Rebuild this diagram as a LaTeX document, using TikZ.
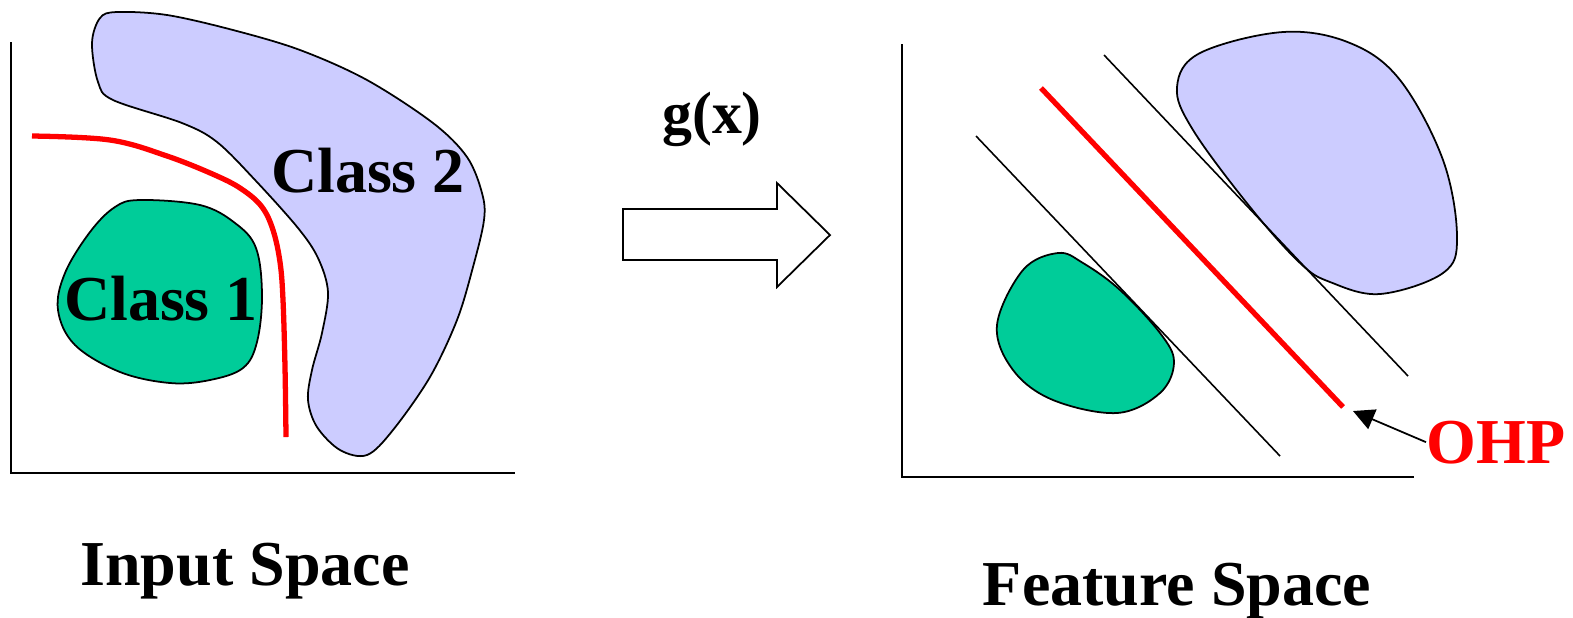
\documentclass[tikz,border=0pt]{standalone}
\usepackage{fontspec}
\setmainfont{Liberation Serif}
\usetikzlibrary{arrows.meta}
\definecolor{classone}{RGB}{0,204,153}
\definecolor{classtwo}{RGB}{204,204,255}
\begin{document}
\begin{tikzpicture}[x=0.01cm,y=-0.01cm,
  axisline/.style={line width=0.5pt},
  blob/.style={draw=black,line width=0.5pt},
  boundary/.style={red,line width=1.5pt},
  marginline/.style={line width=0.45pt},
  lbl/.style={font=\fontsize{18.2}{20}\selectfont\bfseries,inner sep=0pt,anchor=base}]
\useasboundingbox (0,0) rectangle (1573,617);

% ---------- input space ----------
\draw[axisline] (11,42) -- (11,473) -- (515,473);

% class 2 region
\draw[blob,fill=classtwo] plot[smooth cycle,tension=0.55] coordinates {
  (92,43) (100,18) (117,12) (167,15) (233,30) (300,50) (367,80)
  (433,123) (467,157) (482,193) (484,220) (473,267) (457,320)
  (430,377) (393,430) (367,455) (340,450) (317,427) (308,400)
  (312,370) (322,333) (328,292) (318,258) (298,228) (256,181)
  (217,142) (182,123) (113,100) (98,82)};

% class 1 region
\draw[blob,fill=classone] plot[smooth cycle,tension=0.6] coordinates {
  (140,200) (200,205) (235,223) (256,248) (262,295) (257,342)
  (243,368) (210,380) (170,383) (120,372) (75,345) (58,310)
  (65,273) (90,232) (115,207)};

% nonlinear decision boundary
\draw[boundary] plot[smooth,tension=0.6] coordinates {
  (32,136) (110,140) (167,156) (217,176) (243,190) (262,207)
  (273,230) (280,262) (283,300) (285,367) (286,437)};

\node[lbl] (c2) at (368,192) {Class 2};
\node[lbl] (c1) at (161,320) {Class 1};
\node[lbl] (ins) at (245,585) {Input Space};

% ---------- mapping arrow ----------
\draw[line width=0.5pt,fill=white] (623,209) -- (777,209) -- (777,183)
  -- (830,235) -- (777,287) -- (777,260) -- (623,260) -- cycle;
\node[lbl,font=\fontsize{17}{19}\selectfont\bfseries] (gx) at (712,133) {g(x)};

% ---------- feature space ----------
\draw[axisline] (902,44) -- (902,477) -- (1414,477);

% class 2 region
\draw[blob,fill=classtwo] plot[smooth cycle,tension=0.6] coordinates {
  (1283,32) (1350,43) (1400,80) (1443,160) (1457,237) (1443,273)
  (1380,294) (1330,282) (1300,263) (1250,207) (1193,130)
  (1177,87) (1200,53)};

% class 1 region
\draw[blob,fill=classone] plot[smooth cycle,tension=0.6] coordinates {
  (1058,253) (1083,263) (1120,290) (1160,333) (1174,362) (1160,393)
  (1117,413) (1053,400) (1013,370) (997,325) (1023,270)};

% margins and optimal hyperplane
\draw[marginline] (976,136) -- (1280,456);
\draw[marginline] (1104,55) -- (1408,376);
\draw[boundary] (1041,88) -- (1343,407);

\node[lbl,red] (ohp) at (1496,463) {OHP};
\coordinate (ohptip) at (1353,411);
\draw[line width=0.5pt,-{Triangle[length=6pt,width=6pt]}] (ohp.west) -- (ohptip);

\node[lbl] (fs) at (1177,605) {Feature Space};
\end{tikzpicture}
\end{document}
